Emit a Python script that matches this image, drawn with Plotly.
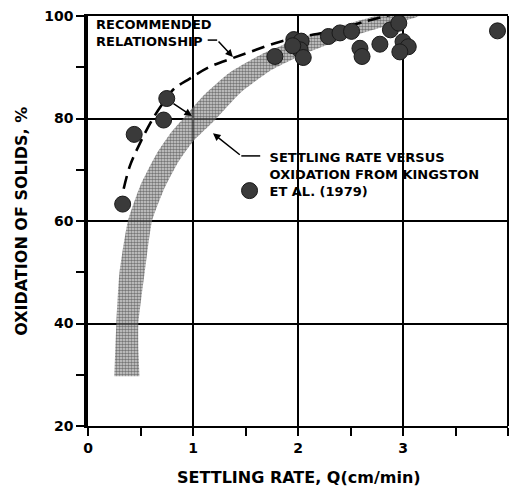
import plotly.graph_objects as go

# ---- data ----
obs_x = [0.33, 0.44, 0.72, 0.75, 1.78, 1.96, 2.03, 2.02, 2.05, 1.95, 2.29, 2.40, 2.51,
         2.59, 2.61, 2.78, 2.88, 2.96, 3.00, 3.05, 2.97, 3.90]
obs_y = [63.3, 76.9, 79.7, 83.9, 92.1, 95.4, 95.1, 93.4, 91.9, 94.2, 96.0, 96.7, 97.0,
         93.7, 92.1, 94.5, 97.3, 98.6, 95.0, 94.0, 93.0, 97.1]

rec_x = [0.34, 0.40, 0.50, 0.61, 0.70, 0.81, 0.97, 1.15, 1.38, 1.60, 1.83, 2.05, 2.30, 2.65, 2.91]
rec_y = [66.3, 70.8, 75.4, 79.7, 82.6, 85.6, 87.8, 90.0, 91.8, 93.4, 95.0, 96.0, 97.0, 99.0, 100.4]

band_upper_x = [0.25, 0.26, 0.27, 0.30, 0.38, 0.50, 0.65, 0.80, 0.95, 1.10, 1.35, 1.65, 2.00, 2.40, 2.75]
band_upper_y = [29.7, 35.0, 40.0, 50.0, 60.0, 67.0, 73.0, 77.5, 81.0, 84.5, 89.0, 92.5, 95.5, 98.0, 100.0]
band_lower_x = [0.49, 0.48, 0.48, 0.54, 0.61, 0.72, 0.86, 1.00, 1.20, 1.45, 1.75, 2.05, 2.40, 2.75, 3.15]
band_lower_y = [29.7, 35.0, 40.0, 50.0, 60.0, 66.0, 71.5, 75.5, 79.5, 85.0, 89.5, 92.5, 95.3, 97.5, 100.0]

x_ticks = [0, 1, 2, 3, 4]
x_tick_labels = ["0", "1", "2", "3", "4"]
y_ticks = [20, 40, 60, 80, 100]
y_tick_labels = ["20", "40", "60", "80", "100"]

FONT = "DejaVu Sans"

fig = go.Figure()

# Kingston band (stippled)
fig.add_trace(go.Scatter(
    x=band_upper_x + band_lower_x[::-1],
    y=band_upper_y + band_lower_y[::-1],
    mode="lines", fill="toself", line=dict(width=0, shape="spline", smoothing=0.5),
    fillcolor="rgba(0,0,0,0)",
    fillpattern=dict(shape=".", fgcolor="#1a1a1a", bgcolor="rgba(175,175,175,0.55)", size=3, solidity=0.55),
    hoverinfo="skip", showlegend=False,
))

# Recommended relationship (dashed)
fig.add_trace(go.Scatter(
    x=rec_x, y=rec_y, mode="lines", line=dict(color="black", width=2.6, dash="13px,7px", shape="spline"),
    showlegend=False, hoverinfo="skip",
))

# Observed points
fig.add_trace(go.Scatter(
    x=obs_x, y=obs_y, mode="markers",
    marker=dict(size=16, color="#3a3a3a", line=dict(color="#1a1a1a", width=1)),
    name="<b>SETTLING RATE VERSUS<br>OXIDATION FROM KINGSTON<br>ET AL. (1979)</b>",
    showlegend=True,
))

axis_common = dict(
    showgrid=True, gridcolor="black", gridwidth=1.5,
    zeroline=False, ticks="outside", ticklen=8, tickwidth=1.5, tickcolor="black",
    tickfont=dict(family=FONT, size=14, color="black", weight="bold"),
)

fig.update_xaxes(range=[0, 4], tickvals=x_ticks, ticktext=x_tick_labels,
                 showline=True, linecolor="black", linewidth=2, mirror=True,
                 minor=dict(dtick=0.5, ticks="outside", ticklen=8, tickwidth=1.5, tickcolor="black", showgrid=False),
                 **axis_common)
fig.update_yaxes(range=[20, 100], tickvals=y_ticks, ticktext=y_tick_labels,
                 showline=True, linecolor="black", linewidth=3.5, mirror=False,
                 minor=dict(dtick=10, ticks="outside", ticklen=8, tickwidth=1.5, tickcolor="black", showgrid=False),
                 **axis_common)

# right border
fig.add_shape(type="line", xref="paper", yref="paper", x0=1, x1=1, y0=0, y1=1,
              line=dict(color="black", width=2))

annots = []
annots.append(dict(text="<b>RECOMMENDED<br>RELATIONSHIP</b>", xref="x", yref="y", x=0.06, y=96.7,
                   xanchor="left", yanchor="middle", showarrow=False, align="left",
                   font=dict(family=FONT, size=13, color="black")))
# arrow for recommended relationship
annots.append(dict(text="", xref="x", yref="y", x=1.38, y=92.0, axref="x", ayref="y", ax=1.23, ay=95.3,
                   showarrow=True, arrowhead=2, arrowsize=1, arrowwidth=1.5, arrowcolor="black"))
# arrow from point to band
annots.append(dict(text="", xref="x", yref="y", x=0.99, y=80.5, axref="x", ayref="y", ax=0.80, ay=83.1,
                   showarrow=True, arrowhead=2, arrowsize=1, arrowwidth=1.5, arrowcolor="black"))
# arrow from Kingston label to band
annots.append(dict(text="", xref="x", yref="y", x=1.19, y=77.1, axref="x", ayref="y", ax=1.46, ay=72.7,
                   showarrow=True, arrowhead=2, arrowsize=1, arrowwidth=1.5, arrowcolor="black"))
# axis titles
annots.append(dict(text="<b>SETTLING RATE, Q(cm/min)</b>", xref="paper", yref="paper", x=0.502, y=-0.125,
                   xanchor="center", yanchor="middle", showarrow=False,
                   font=dict(family=FONT, size=16, color="black")))
annots.append(dict(text="<b>OXIDATION OF SOLIDS, %</b>", xref="paper", yref="paper", x=-0.160, y=0.5,
                   xanchor="center", yanchor="middle", showarrow=False, textangle=-90,
                   font=dict(family=FONT, size=16, color="black")))

fig.add_shape(type="line", xref="x", yref="y", x0=1.23, x1=1.14, y0=95.3, y1=95.3,
              line=dict(color="black", width=1.5))
fig.add_shape(type="line", xref="x", yref="y", x0=1.46, x1=1.64, y0=72.7, y1=72.7,
              line=dict(color="black", width=1.5))

fig.update_layout(
    width=513, height=491,
    margin=dict(l=88, r=5, t=16, b=65),
    plot_bgcolor="white", paper_bgcolor="white",
    annotations=annots,
    legend=dict(x=0.337, y=0.693, xanchor="left", yanchor="top", valign="bottom",
                bgcolor="rgba(0,0,0,0)", font=dict(family=FONT, size=13, color="black")),
)

fig.write_html("out.html", config={"displayModeBar": False},
               post_script="document.body.style.margin='0';")
